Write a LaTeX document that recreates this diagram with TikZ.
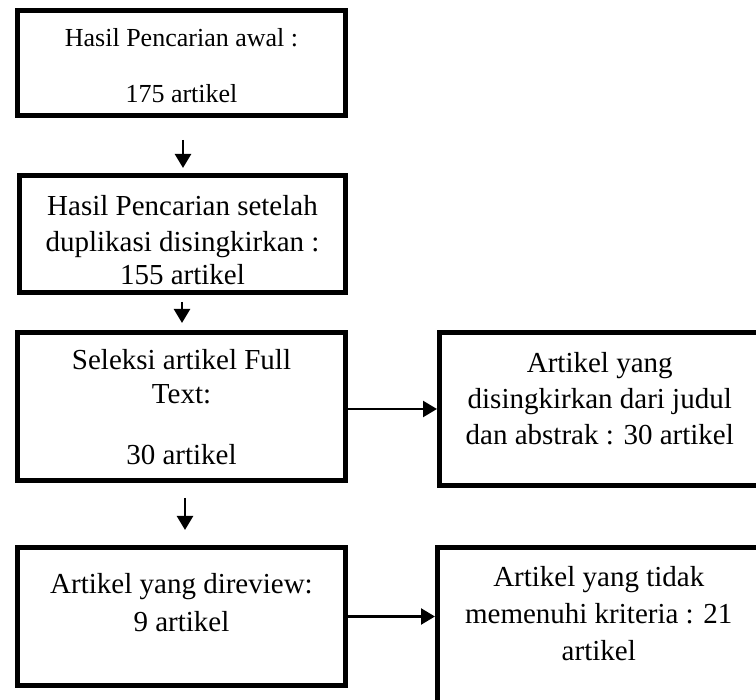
\documentclass[tikz,border=0pt]{standalone}
\usepackage{fontspec}
\setmainfont{Liberation Serif}
\usetikzlibrary{arrows.meta}

\tikzset{
  box/.style={draw, line width=5pt, inner sep=0pt, align=center, text depth=6pt,
    font=\fontsize{29}{36}\selectfont},
  arr/.style={line width=2.5pt, -{Triangle[width=16pt,length=14pt]}}
}

\begin{document}
\begin{tikzpicture}[x=1pt, y=-1pt]
  \useasboundingbox (0,0) rectangle (756,700);

  \node (awal) [box, minimum width=328pt, minimum height=105pt, text height=86pt,
    font=\fontsize{26}{28}\selectfont] at (181.5, 63) {Hasil Pencarian awal :\\ \\175 artikel};
  \node (duplikasi) [box, minimum width=326pt, minimum height=117pt, text height=108pt] at (182.5, 234)
    {Hasil Pencarian setelah\\duplikasi disingkirkan :\\[-3pt]155 artikel};
  \node (fulltext) [box, minimum width=328pt, minimum height=148pt, text height=123pt] at (181.5, 406.5)
    {Seleksi artikel Full\\[-2pt]Text:\\[25pt]30 artikel};
  \node (judul) [box, minimum width=320.5pt, minimum height=153pt, text height=78pt] at (599.75, 409)
    {Artikel yang\\disingkirkan dari judul\\dan abstrak : 30 artikel};
  \node (direview) [box, minimum width=328pt, minimum height=138pt, text height=37pt] at (181.5, 616.5)
    {Artikel yang direview:\\[2pt]9 artikel};
  \node (kriteria) [box, minimum width=322.5pt, minimum height=162.5pt, text height=70.5pt] at (598.75, 628.75)
    {Artikel yang tidak\\[1pt]memenuhi kriteria : 21\\[1pt]artikel};

  % alur
  \draw [arr, shorten <=22pt, shorten >=5pt] ([xshift=1.5pt]awal.south) -- ([xshift=0.5pt]duplikasi.north);
  \draw [arr, shorten <=7pt, shorten >=7pt] ([xshift=-0.5pt]duplikasi.south) -- ([xshift=0.5pt]fulltext.north);
  \draw [arr, shorten <=15pt, shorten >=15pt] ([xshift=3.5pt]fulltext.south) -- ([xshift=3.5pt]direview.north);
  \draw [arr] (fulltext.east |- judul.west) -- (judul.west);
  \draw [arr] (direview.east) -- (kriteria.west |- direview.east);
\end{tikzpicture}
\end{document}
